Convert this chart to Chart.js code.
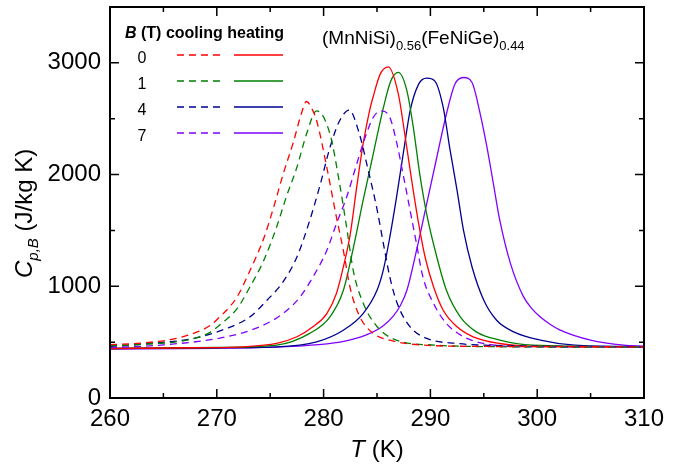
<!DOCTYPE html>
<html lang="en">
<head>
<meta charset="UTF-8">
<title>Cp vs T</title>
<script src="https://cdn.jsdelivr.net/npm/chart.js"></script>
<style>
  body { margin: 0; background: #fff; }
</style>
</head>
<body>
<canvas id="myChart" width="689" height="470"></canvas>
<script>
// field values (T) and colours of each pair of curves
const fields = ['0', '1', '4', '7'];
const colors = ['#ff0000', '#008000', '#000090', '#8000ff'];

// cooling curves (dashed): temperature (K) and Cp (J/kg K)
const tCool0 = [260, 263, 266.2, 268, 269.4, 270.3, 271.2, 271.9, 273.1, 274.4, 275.3, 276.2, 277.2, 277.9, 278.4, 278.9, 279.35, 280.3, 281.2, 281.85, 282.5, 283.4, 284.65, 286.2, 289.3, 295, 310];
const cpCool0 = [478, 492, 533, 585, 650, 728, 815, 905, 1140, 1430, 1700, 2000, 2300, 2540, 2654, 2590, 2482, 2065, 1619, 1321, 980, 726, 578, 518, 473, 462, 458];

const tCool1 = [260, 263, 266.2, 268, 269.4, 270.6, 271.9, 273.1, 274.4, 275.6, 276.5, 277.5, 278.4, 279.35, 280.6, 281.5, 282.2, 282.8, 283.7, 285, 286.8, 290.5, 295, 310];
const cpCool1 = [468, 480, 503, 535, 590, 680, 800, 994, 1232, 1530, 1798, 2065, 2363, 2571, 2363, 1917, 1500, 1130, 850, 640, 518, 473, 460, 455];

const tCool4 = [260, 264, 267.8, 270.9, 273.1, 274.7, 276.2, 277.5, 278.7, 279.7, 280.6, 281.5, 282.4, 283.3, 284.2, 285.0, 285.7, 286.2, 286.9, 288.1, 289.65, 292.5, 296, 310];
const cpCool4 = [462, 490, 533, 622, 726, 875, 1039, 1262, 1589, 1917, 2244, 2482, 2577, 2380, 2030, 1690, 1330, 1083, 845, 637, 533, 488, 470, 458];

const tCool7 = [260, 265, 270.9, 274.0, 276.2, 277.8, 279.0, 280.3, 281.2, 282.2, 283.1, 284.0, 284.65, 285.4, 286.2, 286.8, 287.5, 288.1, 288.7, 289.3, 290.3, 291.5, 293.1, 295, 298.8, 310];
const cpCool7 = [452, 475, 548, 637, 756, 905, 1083, 1321, 1560, 1810, 2095, 2363, 2512, 2571, 2512, 2304, 1976, 1679, 1381, 1083, 845, 667, 548, 488, 458, 455];

// heating curves (solid)
const tHeat0 = [260, 268, 272.5, 275.6, 277.5, 279.0, 280.3, 281.2, 281.85, 282.5, 283.1, 283.7, 284.3, 284.65, 285.3, 286.06, 287.0, 287.6, 288.25, 288.9, 289.5, 290.3, 291.2, 292.5, 294.0, 296.5, 300.3, 310];
const cpHeat0 = [443, 450, 458, 488, 548, 637, 756, 935, 1173, 1470, 1887, 2274, 2571, 2700, 2899, 2964, 2720, 2363, 1946, 1560, 1262, 994, 786, 637, 548, 488, 461, 458];

const tHeat1 = [260, 270, 275.6, 278.7, 280.6, 281.85, 282.8, 283.7, 284.65, 285.6, 286.3, 287.0, 287.8, 288.4, 289.0, 289.65, 290.6, 291.5, 292.8, 294.3, 296.5, 299.6, 310];
const cpHeat1 = [443, 452, 473, 578, 726, 964, 1351, 1768, 2185, 2600, 2840, 2914, 2750, 2423, 2006, 1649, 1262, 964, 726, 592, 518, 473, 458];

const tHeat4 = [260, 270, 275.6, 279.35, 281.85, 283.7, 285.0, 285.6, 286.2, 286.8, 287.5, 288.1, 288.9, 289.65, 290.4, 291.2, 291.8, 292.5, 293.1, 293.9, 295.0, 296.2, 297.8, 300.3, 303.5, 310];
const cpHeat4 = [443, 450, 458, 503, 607, 756, 964, 1150, 1440, 1780, 2214, 2571, 2810, 2863, 2839, 2601, 2244, 1857, 1500, 1173, 875, 696, 592, 518, 473, 460];

const tHeat7 = [260, 270, 276, 279.5, 282.0, 284.0, 285.5, 286.5, 287.2, 287.8, 288.7, 289.65, 290.6, 291.5, 292.3, 293.1, 293.9, 294.6, 295.3, 295.9, 296.5, 297.5, 298.7, 299.5, 300.3, 301.2, 302.1, 305.0, 308.1, 310];
const cpHeat7 = [437, 445, 458, 478, 510, 565, 640, 730, 830, 964, 1321, 1738, 2155, 2542, 2810, 2869, 2824, 2571, 2244, 1917, 1589, 1203, 910, 800, 725, 660, 610, 518, 473, 465];

// axis ticks
const xTicks = [260, 270, 280, 290, 300, 310];
const xMinor = [265, 275, 285, 295, 305];
const yTicks = [0, 1000, 2000, 3000];
const yMinor = [500, 1500, 2500];

const FONT = "'Liberation Sans', Arial, sans-serif";

function pts(ts, cs) {
  return ts.map((t, i) => ({ x: t, y: cs[i] }));
}

const coolSets = [[tCool0, cpCool0], [tCool1, cpCool1], [tCool4, cpCool4], [tCool7, cpCool7]];
const heatSets = [[tHeat0, cpHeat0], [tHeat1, cpHeat1], [tHeat4, cpHeat4], [tHeat7, cpHeat7]];

const datasets = [];
coolSets.forEach((s, i) => {
  datasets.push({ label: fields[i] + ' T cooling', data: pts(s[0], s[1]), borderColor: colors[i],
    borderWidth: 1.3, borderDash: [7, 5], pointRadius: 0, fill: false, cubicInterpolationMode: 'monotone' });
});
heatSets.forEach((s, i) => {
  datasets.push({ label: fields[i] + ' T heating', data: pts(s[0], s[1]), borderColor: colors[i],
    borderWidth: 1.3, pointRadius: 0, fill: false, cubicInterpolationMode: 'monotone' });
});

// frame, inward ticks, legend and titles
const decor = {
  id: 'decor',
  afterDraw(chart) {
    const ctx = chart.ctx;
    const a = chart.chartArea;
    const xs = chart.scales.x, ys = chart.scales.y;
    ctx.save();
    ctx.strokeStyle = '#000';
    ctx.lineWidth = 2;
    ctx.strokeRect(a.left, a.top, a.right - a.left, a.bottom - a.top);

    ctx.lineWidth = 1.5;
    ctx.beginPath();
    const tickX = (v, len) => {
      const px = xs.getPixelForValue(v);
      ctx.moveTo(px, a.bottom); ctx.lineTo(px, a.bottom - len);
      ctx.moveTo(px, a.top); ctx.lineTo(px, a.top + len);
    };
    const tickY = (v, len) => {
      const py = ys.getPixelForValue(v);
      ctx.moveTo(a.left, py); ctx.lineTo(a.left + len, py);
      ctx.moveTo(a.right, py); ctx.lineTo(a.right - len, py);
    };
    xTicks.forEach(v => tickX(v, 9));
    xMinor.forEach(v => tickX(v, 5));
    yTicks.forEach(v => tickY(v, 9));
    yMinor.forEach(v => tickY(v, 5));
    ctx.stroke();

    ctx.fillStyle = '#000';
    ctx.textBaseline = 'alphabetic';
    ctx.textAlign = 'left';

    // x axis title
    ctx.font = 'italic 24px ' + FONT;
    const wT = ctx.measureText('T').width;
    ctx.font = '24px ' + FONT;
    const wK = ctx.measureText(' (K)').width;
    let x0 = (a.left + a.right) / 2 - (wT + wK) / 2;
    ctx.font = 'italic 24px ' + FONT;
    ctx.fillText('T', x0, 457);
    ctx.font = '24px ' + FONT;
    ctx.fillText(' (K)', x0 + wT, 457);

    // y axis title
    ctx.save();
    ctx.translate(32, 278);
    ctx.rotate(-Math.PI / 2);
    ctx.font = 'italic 24px ' + FONT;
    ctx.fillText('C', 0, 0);
    let w = ctx.measureText('C').width;
    ctx.font = 'italic 15px ' + FONT;
    ctx.fillText('p,B', w, 6);
    w += ctx.measureText('p,B').width;
    ctx.font = '24px ' + FONT;
    ctx.fillText(' (J/kg K)', w, 0);
    ctx.restore();

    // compound title
    let tx = 322;
    const parts = [['(MnNiSi)', 19, 0], ['0.56', 13, 6], ['(FeNiGe)', 19, 0], ['0.44', 13, 6]];
    parts.forEach(p => {
      ctx.font = p[1] + 'px ' + FONT;
      ctx.fillText(p[0], tx, 44 + p[2]);
      tx += ctx.measureText(p[0]).width;
    });

    // legend header
    ctx.font = 'bold italic 16px ' + FONT;
    ctx.fillText('B', 125, 38);
    const wB = ctx.measureText('B').width;
    ctx.font = 'bold 16px ' + FONT;
    ctx.fillText(' (T) cooling heating', 125 + wB, 38);

    // legend rows
    ctx.font = '16px ' + FONT;
    ctx.textAlign = 'center';
    ctx.lineWidth = 1.3;
    fields.forEach((f, i) => {
      const ly = 55 + i * 26;
      ctx.fillText(f, 142, ly + 8);
      ctx.strokeStyle = colors[i];
      ctx.setLineDash([7, 5]);
      ctx.beginPath(); ctx.moveTo(177, ly); ctx.lineTo(222, ly); ctx.stroke();
      ctx.setLineDash([]);
      ctx.beginPath(); ctx.moveTo(234, ly); ctx.lineTo(283, ly); ctx.stroke();
    });
    ctx.restore();
  }
};

const ctx = document.getElementById('myChart').getContext('2d');
new Chart(ctx, {
  type: 'line',
  data: { datasets: datasets },
  options: {
    responsive: false,
    animation: false,
    layout: { padding: { top: 7, right: 45 } },
    plugins: { legend: { display: false }, tooltip: { enabled: false } },
    scales: {
      x: {
        type: 'linear', min: 260, max: 310,
        grid: { display: false, drawTicks: false },
        border: { display: false },
        ticks: { color: '#000', padding: 7, maxRotation: 0, font: { family: FONT, size: 24 } },
        afterBuildTicks: s => { s.ticks = xTicks.map(v => ({ value: v })); },
        afterFit: s => { s.height = 72; s.paddingLeft = 0; s.paddingRight = 0; }
      },
      y: {
        type: 'linear', min: 0, max: 3500,
        grid: { display: false, drawTicks: false },
        border: { display: false },
        ticks: { color: '#000', padding: 9, font: { family: FONT, size: 24 }, callback: v => String(v) },
        afterBuildTicks: s => { s.ticks = yTicks.map(v => ({ value: v })); },
        afterFit: s => { s.width = 110; s.paddingTop = 0; s.paddingBottom = 0; }
      }
    }
  },
  plugins: [decor]
});
</script>
</body>
</html>
